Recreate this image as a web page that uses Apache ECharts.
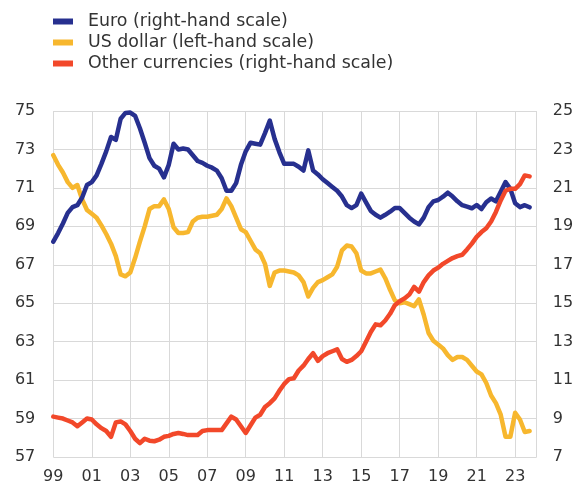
<!DOCTYPE html>
<html>
<head>
<meta charset="utf-8">
<script src="https://cdn.jsdelivr.net/npm/echarts@6/dist/echarts.min.js"></script>
<style>
html,body{margin:0;padding:0;background:#fff;}
#chart{width:579px;height:482px;}
</style>
</head>
<body>
<div id="chart"></div>
<script>
// Quarterly observations, 1999 Q1 - 2023 Q4
const startYear = 1999;
const seriesNames = ['Euro (right-hand scale)', 'US dollar (left-hand scale)', 'Other currencies (right-hand scale)'];

// Euro share (right-hand scale, %)
const euro = [
  18.2, 18.65, 19.15, 19.7, 20.0, 20.1, 20.5, 21.15,
  21.3, 21.65, 22.25, 22.9, 23.65, 23.5, 24.6, 24.9,
  24.92, 24.75, 24.1, 23.35, 22.55, 22.15, 22.0, 21.55,
  22.2, 23.3, 23.0, 23.05, 23.0, 22.7, 22.4, 22.3,
  22.15, 22.05, 21.9, 21.5, 20.85, 20.85, 21.25, 22.2,
  22.9, 23.35, 23.3, 23.25, 23.85, 24.5, 23.55, 22.85,
  22.25, 22.25, 22.25, 22.1, 21.9, 22.95, 21.9, 21.7,
  21.45, 21.25, 21.05, 20.85, 20.55, 20.1, 19.95, 20.1,
  20.7, 20.25, 19.8, 19.6, 19.45, 19.6, 19.76, 19.95,
  19.95, 19.7, 19.45, 19.25, 19.1, 19.45, 20.0, 20.3,
  20.37, 20.54, 20.75, 20.55, 20.3, 20.1, 20.02, 19.94,
  20.11, 19.9, 20.25, 20.45, 20.3, 20.8, 21.3, 20.95,
  20.2, 20.0, 20.1, 19.99
];

// US dollar share (left-hand scale, %)
const usDollar = [
  72.7, 72.2, 71.8, 71.3, 71.0, 71.15, 70.4, 69.85,
  69.65, 69.45, 69.05, 68.6, 68.1, 67.45, 66.5, 66.4,
  66.6, 67.35, 68.2, 69.0, 69.9, 70.05, 70.05, 70.4,
  69.9, 68.95, 68.65, 68.65, 68.7, 69.25, 69.45, 69.5,
  69.5, 69.55, 69.6, 69.9, 70.45, 70.05, 69.45, 68.85,
  68.7, 68.25, 67.8, 67.6, 67.05, 65.9, 66.6, 66.7,
  66.7, 66.65, 66.6, 66.45, 66.1, 65.35, 65.8, 66.1,
  66.2, 66.35, 66.5, 66.9, 67.75, 68.0, 67.95, 67.6,
  66.7, 66.55, 66.55, 66.65, 66.75, 66.3, 65.7, 65.15,
  65.0, 65.05, 64.95, 64.85, 65.2, 64.4, 63.45, 63.05,
  62.85, 62.65, 62.3, 62.05, 62.2, 62.2, 62.05, 61.75,
  61.45, 61.3, 60.85, 60.2, 59.8, 59.2, 58.05, 58.05,
  59.3, 58.95, 58.3, 58.35
];

// Other currencies share (right-hand scale, %)
const otherCurrencies = [
  9.1, 9.05, 9.0, 8.9, 8.8, 8.6, 8.8, 9.0,
  8.95, 8.7, 8.5, 8.35, 8.05, 8.8, 8.85, 8.7,
  8.35, 7.95, 7.72, 7.95, 7.85, 7.82, 7.9, 8.05,
  8.1, 8.2, 8.25, 8.2, 8.14, 8.14, 8.14, 8.35,
  8.4, 8.4, 8.4, 8.4, 8.75, 9.1, 8.95, 8.6,
  8.25, 8.65, 9.05, 9.2, 9.6, 9.8, 10.05, 10.45,
  10.8, 11.05, 11.1, 11.5, 11.75, 12.1, 12.4, 12.0,
  12.25, 12.4, 12.5, 12.6, 12.1, 11.95, 12.05, 12.25,
  12.5, 13.0, 13.5, 13.9, 13.85, 14.1, 14.45, 14.9,
  15.1, 15.25, 15.45, 15.85, 15.6, 16.1, 16.45, 16.7,
  16.85, 17.05, 17.2, 17.35, 17.45, 17.52, 17.8, 18.1,
  18.45, 18.7, 18.9, 19.25, 19.75, 20.35, 20.85, 20.95,
  20.95, 21.2, 21.65, 21.6
];

const leftTicks = {min: 57, max: 75, step: 2};
const rightTicks = {min: 7, max: 25, step: 2};
const xTicks = {min: 1999, max: 2024.12, step: 2};

const colors = {euro: '#27308f', usd: '#f7b72e', other: '#f2482a'};
const FONT = 'DejaVu Sans';

function toPairs(arr) {
  return arr.map((v, i) => [startYear + i / 4, v]);
}

const chart = echarts.init(document.getElementById('chart'), null, {renderer: 'canvas'});

const option = {
  animation: false,
  backgroundColor: '#ffffff',
  legend: {
    orient: 'vertical',
    left: 53,
    top: 13,
    padding: 0,
    itemWidth: 20,
    itemHeight: 6,
    itemGap: 4,
    icon: 'rect',
    selectedMode: false,
    data: [
      {name: seriesNames[0], itemStyle: {color: colors.euro}},
      {name: seriesNames[1], itemStyle: {color: colors.usd}},
      {name: seriesNames[2], itemStyle: {color: colors.other}}
    ],
    textStyle: {fontFamily: FONT, fontSize: 17.4, color: '#333', padding: [0, 0, 0, 10]}
  },
  grid: {left: 53.3, right: 42.3, top: 111, bottom: 25, containLabel: false, outerBoundsMode: 'none'},
  xAxis: {
    type: 'value',
    min: xTicks.min,
    max: xTicks.max,
    interval: xTicks.step,
    axisLine: {show: false},
    axisTick: {show: false},
    splitLine: {show: true, lineStyle: {color: '#d9d9d9', width: 1}},
    axisLabel: {
      fontFamily: FONT, fontSize: 16, color: '#333', margin: 12,
      showMaxLabel: true, showMinLabel: true,
      formatter: function (v) {
        const r = Math.round(v);
        if (Math.abs(v - r) < 1e-6 && Math.abs(r % 2) === 1) {
          return String(r % 100).padStart(2, '0');
        }
        return '';
      }
    }
  },
  yAxis: [
    {
      type: 'value', position: 'left',
      min: leftTicks.min, max: leftTicks.max, interval: leftTicks.step,
      axisLine: {show: false}, axisTick: {show: false},
      splitLine: {show: true, lineStyle: {color: '#d9d9d9', width: 1}},
      axisLabel: {fontFamily: FONT, fontSize: 16, color: '#333', margin: 18}
    },
    {
      type: 'value', position: 'right',
      min: rightTicks.min, max: rightTicks.max, interval: rightTicks.step,
      axisLine: {show: false}, axisTick: {show: false},
      splitLine: {show: false},
      axisLabel: {fontFamily: FONT, fontSize: 16, color: '#333', margin: 16}
    }
  ],
  series: [
    {
      name: seriesNames[1], type: 'line', yAxisIndex: 0, data: toPairs(usDollar),
      showSymbol: false, symbol: 'none', z: 2,
      lineStyle: {color: colors.usd, width: 4.5, join: 'round', cap: 'round'},
      itemStyle: {color: colors.usd}
    },
    {
      name: seriesNames[0], type: 'line', yAxisIndex: 1, data: toPairs(euro),
      showSymbol: false, symbol: 'none', z: 3,
      lineStyle: {color: colors.euro, width: 4.5, join: 'round', cap: 'round'},
      itemStyle: {color: colors.euro}
    },
    {
      name: seriesNames[2], type: 'line', yAxisIndex: 1, data: toPairs(otherCurrencies),
      showSymbol: false, symbol: 'none', z: 4,
      lineStyle: {color: colors.other, width: 4.5, join: 'round', cap: 'round'},
      itemStyle: {color: colors.other}
    }
  ]
};

chart.setOption(option);
</script>
</body>
</html>
